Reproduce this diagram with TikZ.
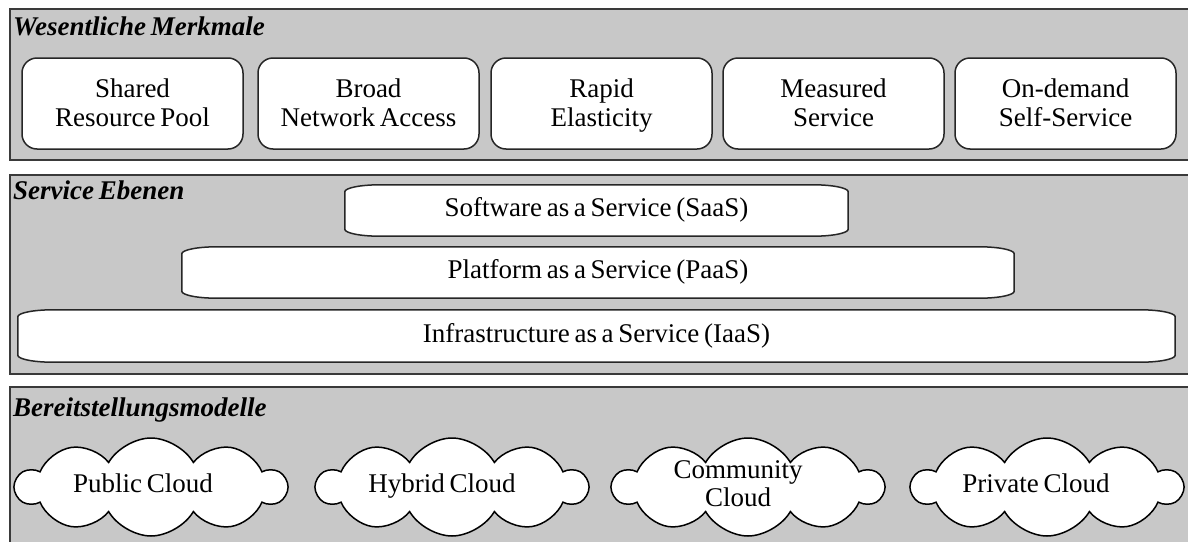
\documentclass[tikz,border=0pt]{standalone}
\usepackage{fontspec}
\setmainfont{Liberation Serif}[WordSpace=0.7]
\usetikzlibrary{shapes.symbols,calc}
\pgfdeclarelayer{bg}
\pgfdeclarelayer{mid}
\pgfsetlayers{bg,mid,main}
\definecolor{panelgray}{HTML}{C8C8C8}
\definecolor{edgegray}{HTML}{3A3A3A}
\newcommand\fstrut{\rule[-6.5pt]{0pt}{29pt}}
\tikzset{
  panel/.style={draw=edgegray, line width=2pt, fill=panelgray, anchor=north west, inner sep=0pt},
  paneltitle/.style={anchor=base west, font=\fontsize{27}{30}\selectfont\bfseries\itshape, inner sep=0pt},
  feature/.style={draw=black!85, line width=1.5pt, fill=white, rounded corners=15pt,
    minimum width=221pt, minimum height=91pt, align=center,
    font=\fontsize{27}{29}\selectfont, inner sep=0pt},
  striptext/.style={font=\fontsize{27}{30}\selectfont, inner sep=0pt},
  stripline/.style={draw=black!85, line width=1.5pt, fill=white},
  cloudbox/.style={cloud, cloud puffs=10, cloud puff arc=120, aspect=2.7, draw=black,
    line width=1.5pt, fill=white, minimum width=270pt, minimum height=98pt, inner sep=0pt},
  cloudtext/.style={font=\fontsize{27}{28}\selectfont, align=center, inner sep=0pt},
}
\newcommand\stripoutline[1]{%
  \begin{pgfonlayer}{mid}
  \path[stripline] let \p1=(#1.north west), \p2=(#1.south east) in
    (\x1,{\y1-7pt}) -- (\x1,{\y2+7pt})
    .. controls (\x1,{\y2+3.1pt}) and ({\x1+15.7pt},\y2) .. ({\x1+35pt},\y2)
    -- ({\x2-35pt},\y2)
    .. controls ({\x2-15.7pt},\y2) and (\x2,{\y2+3.1pt}) .. (\x2,{\y2+7pt})
    -- (\x2,{\y1-7pt})
    .. controls (\x2,{\y1-3.1pt}) and ({\x2-15.7pt},\y1) .. ({\x2-35pt},\y1)
    -- ({\x1+35pt},\y1)
    .. controls ({\x1+15.7pt},\y1) and (\x1,{\y1-3.1pt}) .. (\x1,{\y1-7pt}) -- cycle;
  \end{pgfonlayer}}
\begin{document}
\begin{tikzpicture}[x=1pt,y=-1pt]
\useasboundingbox (0,0) rectangle (1188,541);
% panels
\begin{pgfonlayer}{bg}
\fill[white] (0,0) rectangle (1188,541);
\begin{scope}
\clip (0,0) rectangle (1188,541);
\node[panel, minimum width=1190pt, minimum height=151pt] (p1) at (9,8) {};
\node[panel, minimum width=1190pt, minimum height=199pt] (p2) at (9,174) {};
\node[panel, minimum width=1190pt, minimum height=170pt] (p3) at (9,386) {};
\end{scope}
\end{pgfonlayer}
\node[paneltitle] (t1) at (13,35) {Wesentliche Merkmale};
\node[paneltitle] (t2) at (13,199) {Service Ebenen};
\node[paneltitle] (t3) at (13,416) {Bereitstellungsmodelle};
% features
\node[feature] (f1) at (132.5,103.5) {Shared\fstrut\\Resource Pool\fstrut};
\node[feature] (f2) at (368.5,103.5) {Broad\fstrut\\Network Access\fstrut};
\node[feature] (f3) at (601.5,103.5) {Rapid\fstrut\\Elasticity\fstrut};
\node[feature] (f4) at (833.5,103.5) {Measured\fstrut\\Service\fstrut};
\node[feature] (f5) at (1065.5,103.5) {On-demand\fstrut\\Self-Service\fstrut};
% service layers
\node[striptext, minimum width=503pt, minimum height=51pt] (saas) at (596.5,210.5) {Software as a Service (SaaS)\strut};
\stripoutline{saas}
\node[striptext, minimum width=832pt, minimum height=51pt] (paas) at (598,272.5) {Platform as a Service (PaaS)\strut};
\stripoutline{paas}
\node[striptext, minimum width=1157pt, minimum height=52pt] (iaas) at (596.5,336) {Infrastructure as a Service (IaaS)\strut};
\stripoutline{iaas}
% clouds
\node[cloudbox] (c1) at (151,487) {};
\node[cloudbox] (c2) at (452,487) {};
\node[cloudbox] (c3) at (748,487) {};
\node[cloudbox] (c4) at (1047,487) {};
\node[cloudtext] (l1) at (143,486.5) {Public Cloud\strut};
\node[cloudtext] (l2) at (442,486.5) {Hybrid Cloud\strut};
\node[cloudtext] (l3) at (738,487) {Community\strut\\Cloud\strut};
\node[cloudtext] (l4) at (1036,486.5) {Private Cloud\strut};
\end{tikzpicture}
\end{document}
